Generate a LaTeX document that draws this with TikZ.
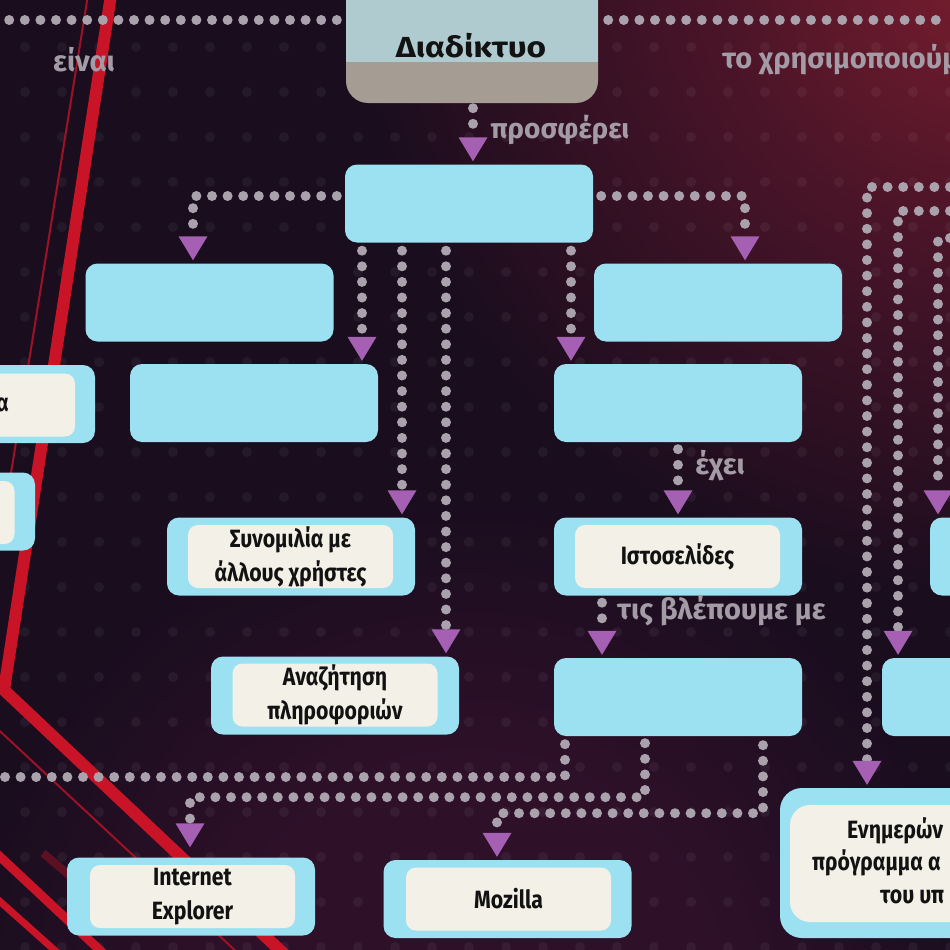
\documentclass[tikz,border=0pt]{standalone}
\usepackage{fontspec}
\setmainfont{Fira Sans}
\newfontfamily\condfont[FakeStretch=0.85]{Fira Sans}
\newfontfamily\widefont[FakeStretch=1.15]{Fira Sans}
\usetikzlibrary{arrows.meta}
\definecolor{bgdark}{HTML}{190D1E}
\definecolor{glowA}{HTML}{7A1E2E}
\definecolor{glowB}{HTML}{4A1428}
\definecolor{glowC}{HTML}{2E1029}
\definecolor{boxblue}{HTML}{9BE1F1}
\definecolor{cream}{HTML}{F3F1E7}
\definecolor{ink}{HTML}{121212}
\definecolor{dotc}{HTML}{A9A1AB}
\definecolor{arrc}{HTML}{A660B3}
\definecolor{lblc}{HTML}{A39BA6}
\definecolor{diadtop}{HTML}{AFCBD0}
\definecolor{diadbot}{HTML}{A59D93}
\definecolor{neon}{HTML}{C91428}
\definecolor{neondark}{HTML}{9E1226}
\pgfdeclareradialshading{bgglow}{\pgfpoint{0bp}{0bp}}{color(0bp)=(glowA); color(10bp)=(glowB); color(23bp)=(bgdark); color(50bp)=(bgdark)}
\pgfdeclareradialshading{bgglowlow}{\pgfpoint{0bp}{0bp}}{color(0bp)=(glowC); color(12bp)=(glowC); color(25bp)=(bgdark); color(50bp)=(bgdark)}
\begin{document}
\begin{tikzpicture}[x=1pt,y=-1pt,
 outerbox/.style={fill=boxblue, rounded corners=12pt, minimum width=248pt, minimum height=78pt, inner sep=0pt},
 innerbox/.style={fill=cream, rounded corners=10pt, minimum width=205pt, minimum height=63pt, inner sep=0pt, align=center, text=ink, font=\condfont\bfseries\fontsize{25}{34}\selectfont},
 conn/.style={draw=dotc, line width=10pt, line cap=round, dash pattern=on 0pt off 15.6pt},
 arr/.style={conn, -{Triangle[length=24pt,width=29pt,color=arrc,line width=0pt]}, shorten >=3pt},
 lbl/.style={text=lblc, inner sep=0pt, font=\bfseries\fontsize{29}{30}\selectfont},
 frag/.style={text=ink, inner sep=0pt, anchor=base west, font=\condfont\bfseries\fontsize{25}{34}\selectfont},
]
\useasboundingbox (0,0) rectangle (950,950);
\clip (0,0) rectangle (950,950);
% background
\fill[bgdark] (0,0) rectangle (950,950);
\shade[shading=bgglow] (990,-40) circle[radius=700pt];
\shade[shading=bgglowlow] (470,1010) circle[radius=520pt];
\foreach \i in {0,...,25}{\foreach \j in {0,...,20}{\fill[white,opacity=0.05] (25+37*\i,47+45*\j) circle[radius=5pt];}}
% red lines
\draw[neon, line width=12pt] (111,-5) -- (4,690) -- (285,955);
\draw[neondark, line width=2pt] (88,-5) -- (-3,560);
\draw[neondark, line width=2pt] (-12,720) -- (240,955);
\draw[neon, line width=9pt] (-5,852) -- (105,955);
\draw[neon, line width=7pt] (-5,897) -- (60,955);
\draw[neondark, opacity=0.5, line width=8pt] (43,853) -- (83,887);
% top box
\node[fill=diadbot, rounded corners=22pt, minimum width=252pt, minimum height=126pt, inner sep=0pt] (diad) at (472,40) {};
\coordinate (split) at (0,62);
\fill[diadtop] (diad.north west) rectangle (diad.east |- split);
\node[text=ink, font=\widefont\bfseries\fontsize{29}{30}\selectfont] (diadtxt) at (471,46) {Διαδίκτυο};
% empty boxes
\node[outerbox] (A) at (469,203.5) {};
\node[outerbox] (B) at (209.5,302.5) {};
\node[outerbox] (C) at (718,302.5) {};
\node[outerbox] (D) at (254,403) {};
\node[outerbox] (E) at (678,403) {};
\node[outerbox] (F) at (678,697) {};
% text boxes
\node[outerbox] (synO) at (291,556.5) {};
\node[innerbox] (syn) at (290.5,556.5) {Συνομιλία με\\άλλους χρήστες};
\node[outerbox] (anazO) at (335,695.5) {};
\node[innerbox] (anaz) at (335,695) {Αναζήτηση\\πληροφοριών};
\node[outerbox] (istoO) at (678,556.5) {};
\node[innerbox] (isto) at (677.5,556.5) {Ιστοσελίδες};
\node[outerbox] (ieO) at (191,896.5) {};
\node[innerbox] (ie) at (192.5,896.5) {Internet\\Explorer};
\node[outerbox] (mozO) at (507.5,899) {};
\node[innerbox] (moz) at (508.5,899) {Mozilla};
% cut boxes at the edges
\node[outerbox] (l1O) at (-29,404) {};
\node[innerbox] (l1) at (-27.5,405) {};
\node[frag, anchor=east] (l1txt) at (9,405) {α};
\node[outerbox] (l2O) at (-89,511.5) {};
\node[innerbox] (l2) at (-88,512.5) {};
\node[outerbox] (r1O) at (1054,556.5) {};
\node[outerbox] (r2O) at (1006,697) {};
\node[fill=boxblue, rounded corners=22pt, minimum width=340pt, minimum height=150pt, inner sep=0pt] (bigO) at (950,863) {};
\node[fill=cream, rounded corners=20pt, minimum width=320pt, minimum height=117pt, inner sep=0pt] (big) at (950,863.5) {};
\node[frag] (bt1) at (847,838) {Ενημερών};
\node[frag] (bt2) at (812,870) {πρόγραμμα α};
\node[frag] (bt3) at (880,903) {του υπ};
% connectors
\coordinate (topL) at (0,20);
\coordinate (topR) at (950,20);
\draw[conn, shorten <=9pt] (diad.west |- topL) -- (topL);
\draw[conn, shorten <=10pt] (diad.east |- topR) -- (topR);
\coordinate (xP) at (473,0);
\draw[arr, shorten <=5pt] (diad.south -| xP) -- (A.north -| xP);
\draw[arr, shorten <=8pt] ([yshift=7.5pt]A.west) -| ([xshift=-16.5pt]B.north);
\draw[arr, shorten <=8pt] ([yshift=7.5pt]A.east) -| ([xshift=27pt]C.north);
\coordinate (xD) at (362,0);
\coordinate (xS) at (402,0);
\coordinate (xN) at (446,0);
\coordinate (xE) at (571,0);
\draw[arr, shorten <=8pt] (A.south -| xD) -- (D.north -| xD);
\draw[arr, shorten <=8pt] (A.south -| xS) -- (synO.north -| xS);
\draw[arr, shorten <=8pt] (A.south -| xN) -- (anazO.north -| xN);
\draw[arr, shorten <=8pt] (A.south -| xE) -- (E.north -| xE);
\draw[arr, shorten <=7pt] (E.south) -- (istoO.north);
\coordinate (xF) at (602,0);
\draw[arr, shorten <=7pt] (istoO.south -| xF) -- (F.north -| xF);
\coordinate (x1) at (565,0);
\coordinate (x2) at (645,0);
\coordinate (x3) at (763,0);
\coordinate (offL) at (0,777);
\draw[conn, shorten <=8pt] (F.south -| x1) |- (offL);
\draw[arr, shorten <=7pt, shorten >=10pt] (F.south -| x2) -- ++(0,61) -| ([xshift=-1pt]ieO.north);
\draw[arr, shorten <=9pt] (F.south -| x3) -- ++(0,77) -| ([xshift=-10.5pt]mozO.north);
\coordinate (rA) at (950,187);
\coordinate (rB) at (950,211);
\coordinate (rC) at (950,238);
\coordinate (xr1) at (867,0);
\coordinate (xr2) at (898,0);
\coordinate (xr3) at (938,0);
\draw[arr] (rA) -| (bigO.north -| xr1);
\draw[arr] (rB) -| (r2O.north -| xr2);
\draw[arr] (rC) -| (r1O.north -| xr3);
% labels
\node[lbl] (leinai) at (84,60) {είναι};
\node[lbl, font=\bfseries\fontsize{28}{30}\selectfont] (lpros) at (560,130) {προσφέρει};
\node[lbl] (lexei) at (720,466) {έχει};
\node[lbl, anchor=west] (ltis) at (617,611) {τις βλέπουμε με};
\node[lbl, anchor=west] (lxrisi) at (722,60) {το χρησιμοποιούμ};
\end{tikzpicture}
\end{document}
